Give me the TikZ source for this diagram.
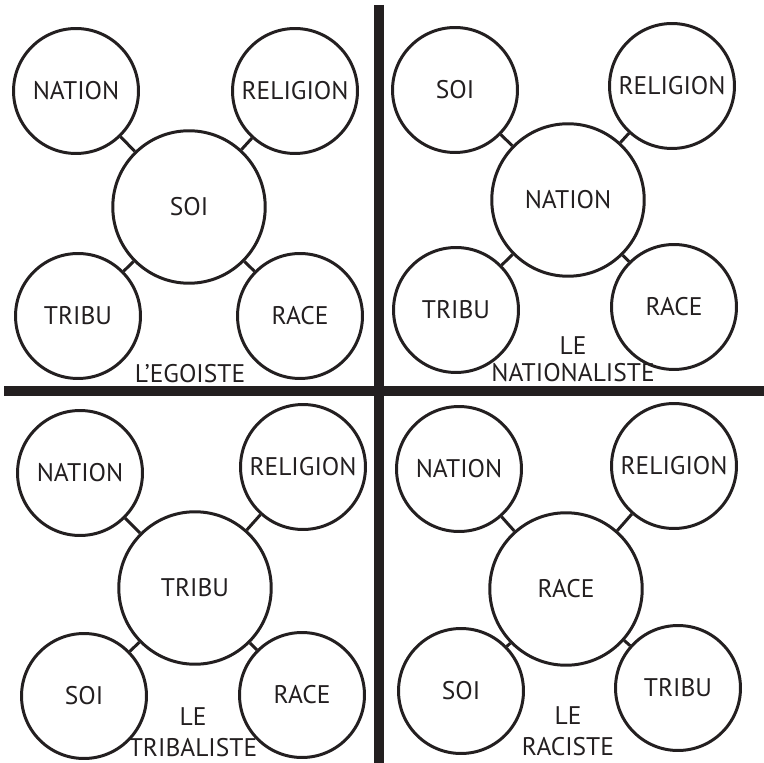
\documentclass[tikz,border=0pt]{standalone}
\usepackage{fontspec}
\setmainfont{PT Sans}
\definecolor{ink}{HTML}{231F20}

\begin{document}
\begin{tikzpicture}[x=0.02cm, y=-0.02cm,
    hub/.style={circle, draw=ink, text=ink, line width=1.7pt, minimum size=3.05cm, inner sep=0pt, font=\fontsize{14.5}{16}\selectfont},
    sat/.style={hub, minimum size=2.5cm},
    link/.style={draw=ink, line width=1.7pt},
    caption/.style={align=center, anchor=south, text=ink, inner sep=0pt, font=\fontsize{14.5}{17.5}\selectfont},
    wall/.style={draw=ink, line width=0.2cm}
  ]

    \useasboundingbox (0,0) rectangle (764,763);

    % the cross between the four panels
    \draw[wall] (379,5) -- (379,763);
    \draw[wall] (4,391) -- (764,391);

    % l'egoiste
    \node[hub] (ego) at (189,207) {SOI};
    \node[sat] (ego-nat) at (76,91) {NATION};
    \node[sat] (ego-rel) at (295,91) {RELIGION};
    \node[sat] (ego-tri) at (78,316) {TRIBU};
    \node[sat] (ego-race) at (300,316) {RACE};
    \node[caption] (ego-cap) at (190,383) {L’EGOISTE};
    \draw[link] (ego-nat) -- (ego) (ego-rel) -- (ego) (ego-tri) -- (ego) (ego-race) -- (ego);

    % le nationaliste
    \node[hub] (nat) at (568,200) {NATION};
    \node[sat] (nat-soi) at (455,90) {SOI};
    \node[sat] (nat-rel) at (672,86) {RELIGION};
    \node[sat] (nat-tri) at (456,310) {TRIBU};
    \node[sat] (nat-race) at (674,307) {RACE};
    \node[caption, font=\fontsize{14.5}{15.5}\selectfont] (nat-cap) at (573,382) {LE\\NATIONALISTE};
    \draw[link] (nat-soi) -- (nat) (nat-rel) -- (nat) (nat-tri) -- (nat) (nat-race) -- (nat);

    % le tribaliste
    \node[hub] (tri) at (195,588) {TRIBU};
    \node[sat] (tri-nat) at (80,473) {NATION};
    \node[sat] (tri-rel) at (303,467) {RELIGION};
    \node[sat] (tri-soi) at (84,696) {SOI};
    \node[sat] (tri-race) at (302,695) {RACE};
    \node[caption] (tri-cap) at (193,757) {LE\\TRIBALISTE};
    \draw[link] (tri-nat) -- (tri) (tri-rel) -- (tri) (tri-soi) -- (tri) (tri-race) -- (tri);

    % le raciste
    \node[hub] (rac) at (566,589) {RACE};
    \node[sat] (rac-nat) at (459,469) {NATION};
    \node[sat] (rac-rel) at (674,466) {RELIGION};
    \node[sat] (rac-soi) at (461,691) {SOI};
    \node[sat] (rac-tri) at (678,688) {TRIBU};
    \node[caption] (rac-cap) at (568,756) {LE\\RACISTE};
    \draw[link] (rac-nat) -- (rac) (rac-rel) -- (rac) (rac-soi) -- (rac) (rac-tri) -- (rac);

  \end{tikzpicture}
\end{document}
